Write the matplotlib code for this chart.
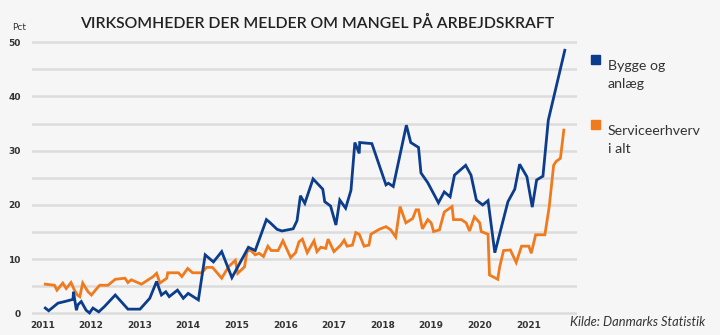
import numpy as np
import matplotlib
matplotlib.use("Agg")
import matplotlib.pyplot as plt

# Data (decimal years, percent)
bygge_t = [2011.06, 2011.13, 2011.32, 2011.46, 2011.63, 2011.64, 2011.70, 2011.73, 2011.80,
           2011.90, 2011.97, 2012.04, 2012.16, 2012.28, 2012.50, 2012.76, 2013.01, 2013.21,
           2013.35, 2013.45, 2013.54, 2013.61, 2013.78, 2013.90, 2014.00, 2014.21, 2014.35,
           2014.52, 2014.69, 2014.90, 2015.24, 2015.38, 2015.61, 2015.69, 2015.83, 2015.93,
           2016.16, 2016.24, 2016.31, 2016.40, 2016.57, 2016.77, 2016.81, 2016.93, 2017.04,
           2017.12, 2017.24, 2017.35, 2017.43, 2017.52, 2017.53, 2017.78, 2018.07, 2018.12,
           2018.22, 2018.49, 2018.58, 2018.74, 2018.79, 2018.93, 2019.15, 2019.27, 2019.39,
           2019.48, 2019.71, 2019.82, 2019.93, 2020.06, 2020.17, 2020.31, 2020.58, 2020.72,
           2020.82, 2020.97, 2021.08, 2021.17, 2021.30, 2021.41, 2021.75]
bygge = [1.0, 0.5, 1.9, 2.2, 2.6, 4.0, 0.6, 1.6, 2.2,
         0.6, 0.1, 1.0, 0.3, 1.3, 3.4, 0.8, 0.8, 2.8,
         5.9, 3.4, 4.0, 3.1, 4.3, 2.8, 3.7, 2.5, 10.8,
         9.5, 11.4, 6.6, 12.2, 11.6, 17.3, 16.7, 15.5, 15.2,
         15.6, 17.1, 21.7, 20.3, 24.8, 22.9, 20.6, 19.8, 16.3,
         20.9, 19.4, 22.7, 31.5, 29.5, 31.5, 31.3, 23.7, 24.0,
         23.4, 34.7, 31.5, 30.6, 25.9, 24.1, 20.4, 22.4, 21.5,
         25.5, 27.3, 25.5, 20.9, 20.0, 20.8, 11.2, 20.6, 22.9,
         27.5, 25.2, 19.6, 24.6, 25.3, 35.6, 48.5]

service_t = [2011.06, 2011.25, 2011.30, 2011.42, 2011.49, 2011.59, 2011.66, 2011.72, 2011.77,
             2011.83, 2011.94, 2012.01, 2012.11, 2012.18, 2012.35, 2012.50, 2012.70, 2012.76,
             2012.83, 2013.04, 2013.28, 2013.35, 2013.42, 2013.56, 2013.58, 2013.80, 2013.87,
             2013.99, 2014.09, 2014.28, 2014.38, 2014.50, 2014.69, 2014.83, 2014.97, 2015.02,
             2015.16, 2015.21, 2015.28, 2015.38, 2015.46, 2015.55, 2015.64, 2015.71, 2015.85,
             2015.95, 2016.11, 2016.21, 2016.28, 2016.35, 2016.45, 2016.59, 2016.65, 2016.73,
             2016.83, 2016.88, 2017.00, 2017.14, 2017.21, 2017.27, 2017.38, 2017.45, 2017.52,
             2017.62, 2017.72, 2017.76, 2017.93, 2018.07, 2018.17, 2018.27, 2018.36, 2018.48,
             2018.62, 2018.69, 2018.74, 2018.82, 2018.93, 2019.00, 2019.05, 2019.17, 2019.27,
             2019.43, 2019.46, 2019.62, 2019.72, 2019.79, 2019.89, 2020.00, 2020.03, 2020.17,
             2020.20, 2020.37, 2020.41, 2020.49, 2020.63, 2020.75, 2020.86, 2021.01, 2021.06,
             2021.15, 2021.34, 2021.43, 2021.52, 2021.57, 2021.66, 2021.73]
service = [5.4, 5.2, 4.3, 5.6, 4.6, 5.7, 4.3, 3.4, 3.1,
           5.6, 4.0, 3.4, 4.5, 5.2, 5.2, 6.3, 6.5, 5.7,
           6.2, 5.4, 6.8, 7.4, 5.6, 6.5, 7.5, 7.5, 6.8,
           8.3, 7.5, 7.5, 8.5, 8.5, 6.5, 8.6, 9.8, 7.4,
           8.6, 11.4, 11.7, 10.8, 11.1, 10.5, 12.4, 11.6, 11.6,
           13.4, 10.3, 11.2, 13.2, 13.7, 11.2, 13.4, 11.4, 12.2,
           12.0, 13.7, 11.4, 12.6, 13.5, 12.4, 12.6, 14.9, 14.6,
           12.4, 12.6, 14.6, 15.5, 16.0, 15.4, 14.1, 19.7, 16.7,
           17.5, 19.1, 19.1, 15.6, 17.3, 16.7, 15.1, 15.4, 18.7,
           19.7, 17.3, 17.3, 16.7, 15.2, 17.8, 16.7, 15.1, 14.6,
           7.1, 6.3, 8.6, 11.6, 11.7, 9.4, 12.4, 12.4, 11.1,
           14.5, 14.5, 19.7, 27.3, 28.0, 28.6, 33.8]

years = list(range(2011, 2022))
yticks = [0, 10, 20, 30, 40, 50]
bg = "#f6f6f6"
blue = "#0b3d8c"
orange = "#f07a1e"

fig = plt.figure(figsize=(7.2, 3.35), dpi=100, facecolor=bg)
ax = fig.add_axes([0.044, 0.0594, 0.758, 0.8197], facecolor=bg)

# gridlines every 5 pct
for v in np.arange(0, 51, 5):
    ax.axhline(v, color="#dcdcdc", lw=1.8, zorder=0)

ax.plot(service_t, service, color=orange, lw=2.0, solid_joinstyle="miter", zorder=3)
ax.plot(bygge_t, bygge, color=blue, lw=2.0, solid_joinstyle="miter", zorder=4)

ax.set_xlim(2010.78, 2022.01)
ax.set_ylim(-0.3, 50.3)
ax.set_xticks(years)
ax.set_xticklabels([str(y) for y in years], fontsize=6.5, fontweight="bold", color="#333333")
ax.set_yticks(yticks)
ax.set_yticklabels([str(v) for v in yticks], fontsize=6.5, fontweight="bold", color="#333333")
ax.tick_params(axis="both", length=0)
ax.tick_params(axis="y", pad=8)
ax.tick_params(axis="x", pad=4)
for s in ax.spines.values():
    s.set_visible(False)

fig.text(12 / 720, 1 - 27 / 335, "Pct", fontsize=6.5, color="#333333", va="center", ha="left")

fig.text(80 / 720, 1 - 23 / 335, "VIRKSOMHEDER DER MELDER OM MANGEL PÅ ARBEJDSKRAFT",
         fontsize=11.3, fontweight="semibold", color="#222222", va="center", ha="left",
         family="Lato")

# legend
fig.patches.append(plt.Rectangle((591 / 720, 1 - 64 / 335), 9 / 720, 9 / 335,
                                 transform=fig.transFigure, color=blue))
fig.patches.append(plt.Rectangle((591 / 720, 1 - 129 / 335), 9 / 720, 9 / 335,
                                 transform=fig.transFigure, color=orange))
fig.text(608 / 720, 1 - 60 / 335, "Bygge og\nanlæg", fontsize=10.2, color="#333333",
         va="top", ha="left", linespacing=1.6, family="Lato")
fig.text(608 / 720, 1 - 125 / 335, "Serviceerhverv\ni alt", fontsize=10.2, color="#333333",
         va="top", ha="left", linespacing=1.6, family="Lato")

fig.text(705 / 720, 1 - 322 / 335, "Kilde: Danmarks Statistik", fontsize=9.3,
         style="italic", color="#333333", va="center", ha="right", family="Lato")

fig.savefig("out.png", dpi=100, facecolor=bg)
